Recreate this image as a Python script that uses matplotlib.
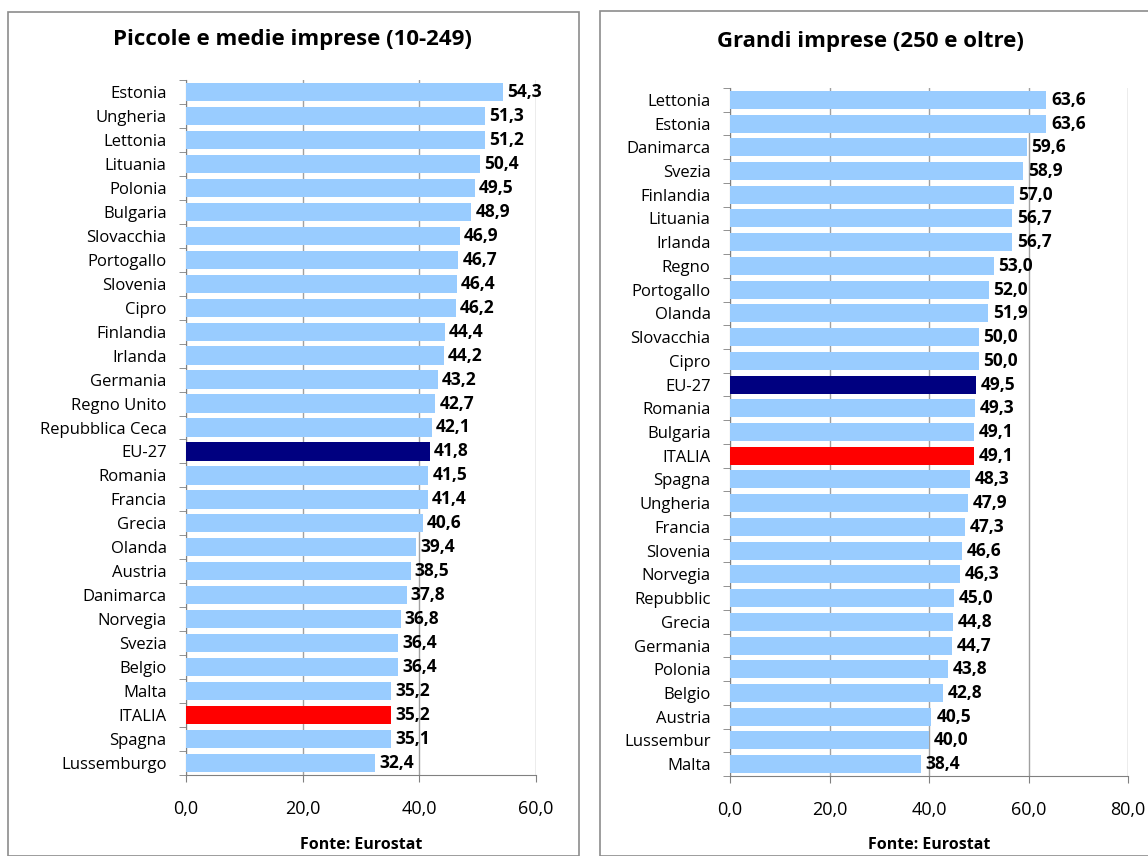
import matplotlib.pyplot as plt
from matplotlib.patches import Rectangle
from matplotlib.ticker import FuncFormatter, FixedLocator
import numpy as np

plt.rcParams['font.family'] = ['Open Sans', 'DejaVu Sans']

# piccole e medie imprese (10-249)
pmi_paesi = ['Estonia', 'Ungheria', 'Lettonia', 'Lituania', 'Polonia', 'Bulgaria',
             'Slovacchia', 'Portogallo', 'Slovenia', 'Cipro', 'Finlandia', 'Irlanda',
             'Germania', 'Regno Unito', 'Repubblica Ceca', 'EU-27', 'Romania', 'Francia',
             'Grecia', 'Olanda', 'Austria', 'Danimarca', 'Norvegia', 'Svezia', 'Belgio',
             'Malta', 'ITALIA', 'Spagna', 'Lussemburgo']
pmi_valori = [54.3, 51.3, 51.2, 50.4, 49.5, 48.9, 46.9, 46.7, 46.4, 46.2, 44.4, 44.2,
              43.2, 42.7, 42.1, 41.8, 41.5, 41.4, 40.6, 39.4, 38.5, 37.8, 36.8, 36.4,
              36.4, 35.2, 35.2, 35.1, 32.4]

# grandi imprese (250 e oltre)
gi_paesi = ['Lettonia', 'Estonia', 'Danimarca', 'Svezia', 'Finlandia', 'Lituania',
            'Irlanda', 'Regno', 'Portogallo', 'Olanda', 'Slovacchia', 'Cipro', 'EU-27',
            'Romania', 'Bulgaria', 'ITALIA', 'Spagna', 'Ungheria', 'Francia', 'Slovenia',
            'Norvegia', 'Repubblic', 'Grecia', 'Germania', 'Polonia', 'Belgio', 'Austria',
            'Lussembur', 'Malta']
gi_valori = [63.6, 63.6, 59.6, 58.9, 57.0, 56.7, 56.7, 53.0, 52.0, 51.9, 50.0, 50.0,
             49.5, 49.3, 49.1, 49.1, 48.3, 47.9, 47.3, 46.6, 46.3, 45.0, 44.8, 44.7,
             43.8, 42.8, 40.5, 40.0, 38.4]


def colore(p):
    if p == 'EU-27':
        return '#000080'
    if p == 'ITALIA':
        return '#FF0000'
    return '#99CCFF'


def virgola(v, pos=None):
    return ('%.1f' % v).replace('.', ',')


W, H = 1148, 856
fig = plt.figure(figsize=(W / 100, H / 100), dpi=100)

# cornici dei due grafici
fig.patches.append(Rectangle((8 / W, 0), 571 / W, 1 - 12 / H, transform=fig.transFigure,
                             fill=False, edgecolor='#8c8c8c', lw=1.2))
fig.patches.append(Rectangle((600 / W, 0), 560 / W, 1 - 11 / H, transform=fig.transFigure,
                             fill=False, edgecolor='#8c8c8c', lw=1.2))


def pannello(rect, paesi, valori, xmax, titolo, tx, ty):
    ax = fig.add_axes(rect)
    n = len(paesi)
    y = np.arange(n)
    ax.barh(y, valori, height=0.76, color=[colore(p) for p in paesi], zorder=3)
    for yi, v in zip(y, valori):
        ax.text(v + xmax * 0.012, yi, virgola(v), va='center', ha='left',
                fontsize=12.5, fontweight='bold', zorder=4)
    ax.set_ylim(n - 0.5, -0.5)
    ax.set_xlim(0, xmax)
    ax.set_yticks(y)
    ax.set_yticklabels(paesi, fontsize=12)
    ax.yaxis.set_minor_locator(FixedLocator(np.arange(-0.5, n, 1)))
    ax.tick_params(axis='y', which='major', length=0, pad=14)
    ax.tick_params(axis='y', which='minor', length=5, color='#808080')
    ax.set_xticks(np.arange(0, xmax + 1, 20))
    ax.xaxis.set_major_formatter(FuncFormatter(virgola))
    ax.tick_params(axis='x', length=5, color='#808080', labelsize=13, pad=13)
    ax.grid(axis='x', color='#a0a0a0', lw=1, zorder=0)
    for s in ['top', 'right']:
        ax.spines[s].set_visible(False)
    for s in ['left', 'bottom']:
        ax.spines[s].set_color('#808080')
    fig.text(tx / W, 1 - ty / H, titolo, ha='center', va='center',
             fontsize=16, fontweight='bold')
    cx = rect[0] + rect[2] / 2
    fig.text(cx, 1 - 845 / H, 'Fonte: Eurostat', ha='center', va='center',
             fontsize=11.5, fontweight='bold')
    return ax


pannello([186 / W, 1 - 775 / H, 350 / W, 695 / H], pmi_paesi, pmi_valori, 60,
         'Piccole e medie imprese (10-249)', 292, 40)
pannello([730 / W, 1 - 776 / H, 398 / W, 688 / H], gi_paesi, gi_valori, 80,
         'Grandi imprese (250 e oltre)', 870, 42)

fig.savefig('out.png', dpi=100)
